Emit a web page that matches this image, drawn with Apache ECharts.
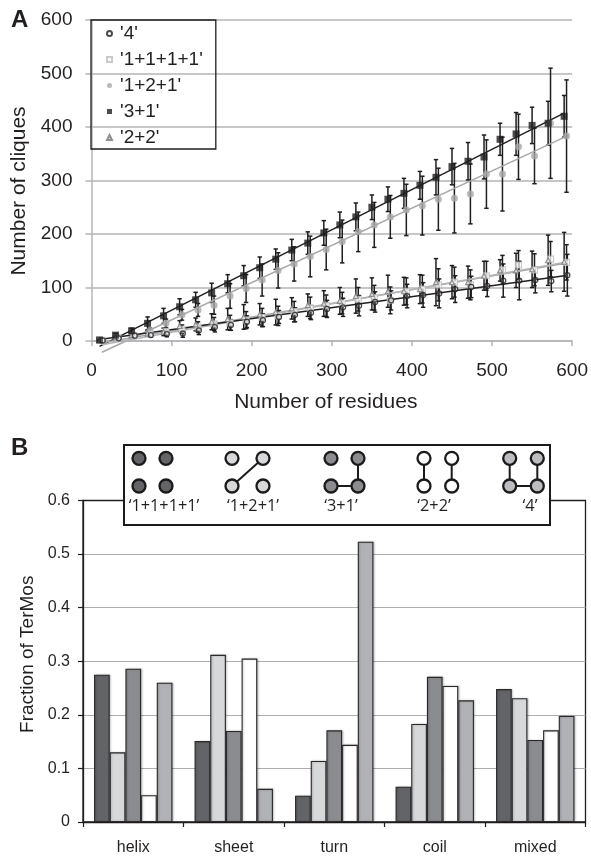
<!DOCTYPE html>
<html><head><meta charset="utf-8">
<style>html,body{margin:0;padding:0;background:#fff}#c{width:591px;height:858px}</style>
<script src="https://cdn.jsdelivr.net/npm/echarts@6/dist/echarts.min.js"></script>
</head><body><div id="c"></div>
<script>
// Panel A: x positions
const resA = [10,30,50,70,90,110,130,150,170,190,210,230,250,270,290,310,330,350,370,390,410,430,450,470,490,510,530,550,570,590];
const shift4 = 4, shiftSq = 3, shiftGrey = 3;
const val3p1 = [2,11,19,33,47,64,77,90,107,122,137,153,170,183,202,217,232,250,265,276,291,306,326,336,344,377,387,403,407,420];
const err3p1 = [1,3,5,12,14,15,14,18,17,19,20,19,20,21,23,24,26,23,23,28,26,33,34,35,41,30,40,34,41,39];
const val1p2p1 = [1,7,11,19,33,49,58,67,84,98,114,132,144,158,171,186,204,217,232,245,253,265,267,275,312,312,363,346,407,383];
const err1p2p1 = [1,2,3,5,8,10,12,17,23,26,30,33,32,38,38,40,37,42,40,48,55,58,65,56,64,69,61,52,103,105];
const val4 = [1,5,10,11,13,14,20,26,30,36,39,45,49,53,60,63,66,73,76,84,86,89,97,101,103,113,113,114,112,123];
const err4 = [1,2,3,4,5,7,8,9,10,11,12,12,13,13,16,17,19,19,18,22,23,27,25,20,20,31,36,24,20,39];
const val2p2 = [1,7,11,14,17,28,31,36,41,45,50,54,61,67,70,75,84,88,93,93,97,110,110,110,122,132,132,134,151,148];
const err2p2 = [1,2,4,5,7,10,12,15,20,23,20,24,20,21,24,25,32,30,30,26,27,44,31,30,27,20,32,34,47,55];
const val1111 = [1,6,10,13,18,22,26,32,34,39,44,47,55,62,66,71,78,81,76,93,97,105,110,105,122,133,142,133,153,147];
const err1111 = [1,2,3,4,6,8,10,12,14,16,17,18,19,20,20,20,22,23,25,25,26,30,28,28,27,27,27,30,33,33];
// Trendline end points, panel A
const trend3p1 = [[10,-10],[590,426]];
const trend1p2p1 = [[13,-21],[592,382]];
const trend4 = [[10,3],[595,123]];
const trend2p2 = [[10,-4],[590,145]];
const trend1111 = [[13,-7],[595,148]];
// Tick labels / names
const nameA = ["'4'","'1+1+1+1'","'1+2+1'","'3+1'","'2+2'"];
// Panel B
const categories = ['helix','sheet','turn','coil','mixed'];
const b1111 = [0.275,0.151,0.049,0.066,0.248];
const b1211 = [0.130,0.312,0.114,0.183,0.231];
const b31   = [0.286,0.170,0.171,0.271,0.153];
const b22   = [0.050,0.305,0.144,0.254,0.171];
const b4    = [0.260,0.062,0.523,0.227,0.198];
const nameB = ["'1+1+1+1'","'1+2+1'","'3+1'","'2+2'","'4'"];
const colorsB = ['#636467','#d6d8da','#8b8c90','#ffffff','#b1b2b6'];

const TXT = '#231f20', GRID = '#b4b4b8', DARK = '#1f1d1e';
const FF = '"Liberation Sans", Arial, sans-serif';

const pts = (vals, dx) => vals.map((v,i)=>[resA[i]+dx, v]);
const errData = (vals, errs, dx) => vals.map((v,i)=>[resA[i]+dx, Math.max(v-errs[i],0), v+errs[i]]);

function errSeries(vals, errs, dx, z){
  return {type:'custom', xAxisIndex:0, yAxisIndex:0, silent:true, z, clip:false,
    encode:{x:0,y:[1,2]}, data:errData(vals,errs,dx),
    renderItem:(p,api)=>{
      const a=api.coord([api.value(0),api.value(1)]), b=api.coord([api.value(0),api.value(2)]);
      const st={stroke:'#1f1d1e',lineWidth:1.5,fill:null}, c=2.2;
      return {type:'group',children:[
        {type:'line',shape:{x1:a[0],y1:a[1],x2:b[0],y2:b[1]},style:st},
        {type:'line',shape:{x1:a[0]-c,y1:a[1],x2:a[0]+c,y2:a[1]},style:st},
        {type:'line',shape:{x1:b[0]-c,y1:b[1],x2:b[0]+c,y2:b[1]},style:st}
      ]};
    }};
}
function scat(name, vals, dx, symbol, size, st, z){
  return {name, type:'scatter', xAxisIndex:0, yAxisIndex:0, symbol, symbolSize:size, itemStyle:st, z, data:pts(vals,dx), clip:false};
}
function trend(data,color,z){
  return {type:'line', xAxisIndex:0, yAxisIndex:0, data, showSymbol:false, symbol:'none', clip:false, silent:true, z,
    lineStyle:{color,width:1.5}};
}

const series = [
  errSeries(val1p2p1,err1p2p1,shiftGrey,2),
  errSeries(val3p1,err3p1,0,2),
  errSeries(val2p2,err2p2,0,2),
  errSeries(val1111,err1111,shiftSq,2),
  errSeries(val4,err4,shift4,2),
  trend(trend3p1,'#231f20',3),
  trend(trend1p2p1,'#a8a8ab',3),
  trend(trend2p2,'#a8a8ab',3),
  trend(trend1111,'#b5b5b8',3),
  trend(trend4,'#231f20',3),
  scat(nameA[2],val1p2p1,shiftGrey,'circle',7,{color:'#a6a7aa'},4),
  scat(nameA[3],val3p1,0,'rect',7,{color:'#1f1d1e'},5),
  scat(nameA[1],val1111,shiftSq,'rect',6,{color:'#ffffff',opacity:0.75,borderColor:'#b9babc',borderWidth:1.2},4),
  scat(nameA[4],val2p2,0,'triangle',5,{color:'#e6e6e6',borderColor:'#77777a',borderWidth:1.1},4),
  scat(nameA[0],val4,shift4,'circle',5,{color:'rgba(255,255,255,0.2)',borderColor:'#1f1d1e',borderWidth:1.3},5)
];
[b1111,b1211,b31,b22,b4].forEach((d,i)=>series.push({
  name:nameB[i]+' ', type:'bar', xAxisIndex:1, yAxisIndex:1, data:d, barGap:0, barCategoryGap:'22%',
  itemStyle:{color:colorsB[i],borderColor:'#2a2829',borderWidth:1.1,shadowColor:'rgba(0,0,0,0.22)',shadowBlur:2,shadowOffsetX:1,shadowOffsetY:0}, z:3
}));

// Motif key (schematic only, panel B)
const keyTop=458.3, keyBot=486;
function node(x,y,fill){return {type:'circle',z:20,shape:{cx:x,cy:y,r:6.5},style:{fill,stroke:'#1c1a1b',lineWidth:2.3}};}
function edge(x1,y1,x2,y2){return {type:'line',z:19,shape:{x1,y1,x2,y2},style:{stroke:'#1c1a1b',lineWidth:2}};}
function keyText(t,x){return {type:'text',z:20,style:{text:t,x,y:506.5,align:'center',verticalAlign:'middle',fill:TXT,font:'16.3px "Open Sans", sans-serif'}};}
const gfx=[
 {type:'text',z:20,style:{text:'A',x:11,y:8,fill:TXT,font:'bold 24px '+FF}},
 {type:'text',z:20,style:{text:'B',x:11,y:436,fill:TXT,font:'bold 24px '+FF}},
 {type:'rect',z:18,shape:{x:124,y:445,width:426,height:80},style:{fill:'#fff',stroke:'#1c1a1b',lineWidth:2}},
 node(139,keyTop,colorsB[0]),node(166,keyTop,colorsB[0]),node(139,keyBot,colorsB[0]),node(166,keyBot,colorsB[0]),
 edge(263,keyTop,232,keyBot),
 node(232,keyTop,colorsB[1]),node(263,keyTop,colorsB[1]),node(232,keyBot,colorsB[1]),node(263,keyBot,colorsB[1]),
 edge(358,keyTop,358,keyBot),edge(331,keyBot,358,keyBot),
 node(331,keyTop,colorsB[2]),node(358,keyTop,colorsB[2]),node(331,keyBot,colorsB[2]),node(358,keyBot,colorsB[2]),
 edge(424,keyTop,424,keyBot),edge(451.7,keyTop,451.7,keyBot),
 node(424,keyTop,'#fff'),node(451.7,keyTop,'#fff'),node(424,keyBot,'#fff'),node(451.7,keyBot,'#fff'),
 edge(509.7,keyTop,509.7,keyBot),edge(537.3,keyTop,537.3,keyBot),edge(509.7,keyBot,537.3,keyBot),
 node(509.7,keyTop,'#bcbdc0'),node(537.3,keyTop,'#bcbdc0'),node(509.7,keyBot,'#bcbdc0'),node(537.3,keyBot,'#bcbdc0'),
 keyText('‘1+1+1+1’',164),keyText('‘1+2+1’',253),keyText('‘3+1’',341),keyText('‘2+2’',434),keyText('‘4’',530)
];

const chart = echarts.init(document.getElementById('c'),null,{renderer:'canvas'});
chart.setOption({
  animation:false, backgroundColor:'#fff',
  textStyle:{fontFamily:FF},
  legend:{data:nameA, orient:'vertical', left:91, top:20, align:'left', itemWidth:5, itemHeight:5, itemGap:7,
    padding:[4,13,2,15], borderColor:'#1f1d1e', borderWidth:1.3, selectedMode:false,
    textStyle:{fontSize:19,color:TXT,fontFamily:FF,padding:[0,0,0,3]}},
  grid:[
    {left:91.5,top:20,width:481,height:321,show:false},
    {left:83,top:500.5,width:502.5,height:321.5,show:true,borderColor:'#1f1d1e',borderWidth:1.3,backgroundColor:'transparent'}
  ],
  xAxis:[
    {type:'value',gridIndex:0,min:0,max:600,interval:100,name:'Number of residues',nameLocation:'middle',nameGap:51,
      nameTextStyle:{fontSize:21,color:TXT,fontFamily:FF,padding:[0,12,0,0]},
      axisLine:{onZero:false,lineStyle:{color:GRID,width:1.5}},axisTick:{show:true,length:5,lineStyle:{color:GRID,width:1.5}},
      axisLabel:{fontSize:19,color:TXT,margin:20},splitLine:{show:false}},
    {type:'category',gridIndex:1,data:categories,
      axisLine:{lineStyle:{color:'#1f1d1e',width:1.3}},axisTick:{show:true,alignWithLabel:false,length:5,lineStyle:{color:'#1f1d1e',width:1.2}},
      axisLabel:{fontSize:16,color:TXT,margin:18},splitLine:{show:false}}
  ],
  yAxis:[
    {type:'value',gridIndex:0,min:0,max:600,interval:100,name:'Number of cliques',nameLocation:'middle',nameGap:60,
      nameTextStyle:{fontSize:21,color:TXT,fontFamily:FF,padding:[0,21,0,0]},
      axisLine:{show:true,lineStyle:{color:GRID,width:1.5}},axisTick:{show:true,length:6,lineStyle:{color:GRID,width:1.5}},
      axisLabel:{fontSize:19,color:TXT,margin:19},splitLine:{show:true,lineStyle:{color:GRID,width:1.5}}},
    {type:'value',gridIndex:1,min:0,max:0.6,interval:0.1,name:'Fraction of TerMos',nameLocation:'middle',nameGap:46,
      nameTextStyle:{fontSize:19,color:TXT,fontFamily:FF,padding:[0,0,0,14]},
      axisLine:{show:true,lineStyle:{color:'#1f1d1e',width:1.3}},axisTick:{show:true,length:5,lineStyle:{color:'#1f1d1e',width:1.2}},
      axisLabel:{fontSize:16,color:TXT,margin:13,formatter:v=>v===0?'0':v.toFixed(1)},
      splitLine:{show:true,showMinLine:false,showMaxLine:false,lineStyle:{color:'#aeaeb2',width:1.2}}}
  ],
  series, graphic:gfx
});
</script></body></html>
